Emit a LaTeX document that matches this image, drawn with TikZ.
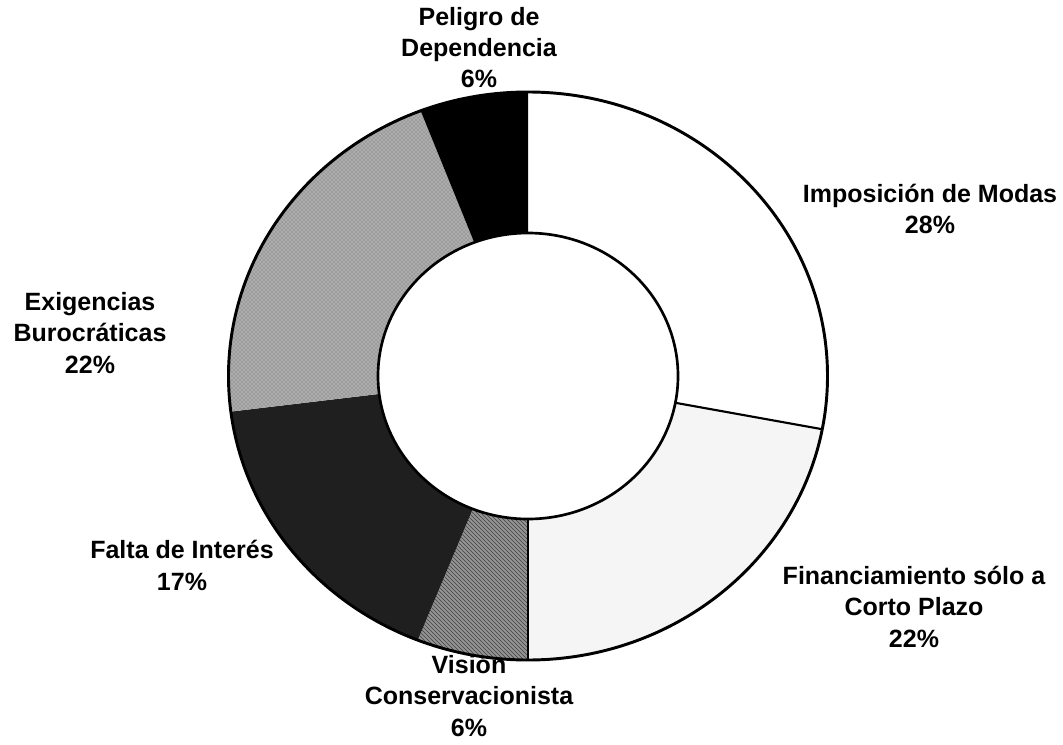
\documentclass[tikz,border=0pt]{standalone}
\usepackage{fontspec}
\setmainfont{Liberation Sans}
\usetikzlibrary{patterns}
\def\ringpart[#1](#2:#3){\fill[#1] (#2:299.5 and 284) arc[start angle=#2, end angle=#3, x radius=299.5, y radius=284] -- (#3:150 and 143) arc[start angle=#3, end angle=#2, x radius=150, y radius=143] -- cycle;}

\begin{document}
\begin{tikzpicture}[x=0.75pt, y=0.75pt,
		label/.style={font=\fontsize{18.75}{23.5}\selectfont\bfseries, align=center, inner sep=0pt, anchor=base}]
			%%%%% START %%%%%
			
			\useasboundingbox (0, 0) rectangle (1063, 744);
			\fill[white] (0, 0) rectangle (1063, 744);
			
			\node[label] (peligro) at (479, 656) {Peligro de\\Dependencia\\6\%};
			\node[label] (modas) at (930, 510) {Imposición de Modas\\28\%};
			\node[label] (burocracia) at (90, 371) {Exigencias\\Burocráticas\\22\%};
			\node[label] (interes) at (182, 154) {Falta de Interés\\17\%};
			\node[label] (plazo) at (914, 97) {Financiamiento sólo a\\Corto Plazo\\22\%};
			\node[label] (vision) at (469, 8) {Visión\\Conservacionista\\6\%};
			
			\begin{scope}[shift={(528, 368)}]
				\ringpart[white](90:-10.8)
				\ringpart[black!4](-10.8:-90)
				\ringpart[black!42](-90:-111.6)
				\ringpart[pattern=north west lines, pattern color=black!75](-90:-111.6)
				\ringpart[black!88](-111.6:-172.8)
				\ringpart[black!32](-172.8:-249)
				\ringpart[pattern=crosshatch dots, pattern color=black!60](-172.8:-249)
				\ringpart[black](-249:-270)
				
				\draw[line width=1.6pt] (-10.8:150 and 143) -- (-10.8:299.5 and 284);
				\draw[line width=1.6pt] (-90:150 and 143) -- (-90:299.5 and 284);
				
				\draw[line width=2.2pt] (0, 0) ellipse[x radius=299.5, y radius=284];
				\draw[line width=2pt] (0, 0) ellipse[x radius=150, y radius=143];
			\end{scope}
			
			%%%%% END %%%%%
		\end{tikzpicture}
\end{document}
